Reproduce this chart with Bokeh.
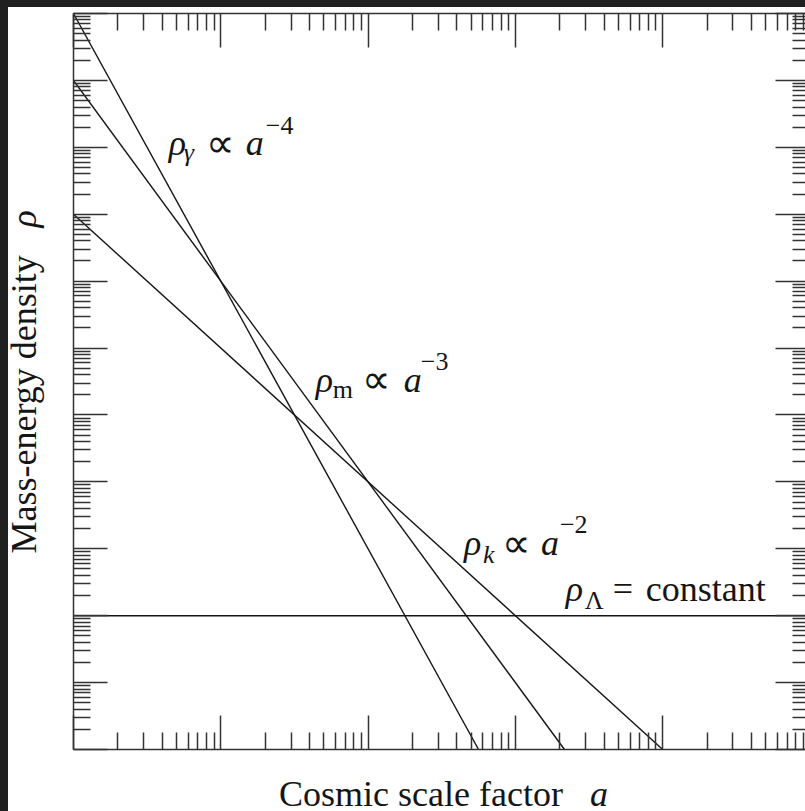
import math

from bokeh.core.properties import value
from bokeh.embed import file_html
from bokeh.layouts import column, row
from bokeh.models import CustomJSTickFormatter, FixedTicker, Label, LogAxis, Range1d
from bokeh.plotting import figure
from bokeh.resources import INLINE

# Density components: end points (scale factor a, density rho) on the log-log plane
a_radiation = [1e-3, 0.562]
rho_radiation = [1e9, 1e-2]

a_matter = [1e-3, 2.154]
rho_matter = [1e8, 1e-2]

a_curvature = [1e-3, 10.0]
rho_curvature = [1e6, 1e-2]

a_lambda = [1e-3, 100.0]
rho_lambda = [1.0, 1.0]

# Decades carrying major ticks (no tick labels are shown)
x_decades = [-3, -2, -1, 0, 1, 2]
y_decades = [-2, -1, 0, 1, 2, 3, 4, 5, 6, 7, 8, 9]
minor_steps = [2, 3, 4, 5, 6, 7, 8, 9]

x_title = "Cosmic scale factor"
y_title = "Mass-energy density"

SERIF = "Liberation Serif"
INK = "#151515"
AXIS = "#333333"
BIG, SMALL = 36, 26

# ---- main log-log panel -------------------------------------------------
FRAME_W, FRAME_H = 732, 736
PAD_L, PAD_T, PAD_B = 5, 6, 5
decade_px = 147.3
x_end = 10 ** (x_decades[0] + FRAME_W / decade_px)

p = figure(
    width=FRAME_W + PAD_L, height=FRAME_H + PAD_T + PAD_B,
    x_axis_type="log", y_axis_type="log",
    x_range=Range1d(10.0 ** x_decades[0], x_end),
    y_range=Range1d(10.0 ** y_decades[0], 10.0 ** y_decades[-1]),
    output_backend="svg", toolbar_location=None,
    min_border_left=PAD_L, min_border_top=PAD_T,
    min_border_bottom=PAD_B, min_border_right=0,
    background_fill_color="white", border_fill_color="white",
    outline_line_color=None,
)
p.grid.visible = False


def log_ticker(decades):
    return FixedTicker(
        ticks=[10.0 ** k for k in decades],
        minor_ticks=[m * 10.0 ** k for k in decades for m in minor_steps],
    )


def style_axis(ax, decades, major_in, minor_in, show_line=True):
    ax.ticker = log_ticker(decades)
    ax.formatter = CustomJSTickFormatter(code="return ''")
    ax.major_label_text_font_size = "0px"
    ax.major_label_standoff = 0
    ax.axis_label = None
    ax.major_tick_in = major_in
    ax.major_tick_out = 0
    ax.minor_tick_in = minor_in
    ax.minor_tick_out = 0
    ax.major_tick_line_color = AXIS
    ax.minor_tick_line_color = AXIS
    ax.major_tick_line_width = 1.5
    ax.minor_tick_line_width = 1.5
    ax.axis_line_color = AXIS if show_line else None
    ax.axis_line_width = 1.5


style_axis(p.xaxis[0], x_decades, 34, 17)
style_axis(p.yaxis[0], y_decades, 34, 17)

top_axis = LogAxis()
style_axis(top_axis, x_decades, 34, 17)
p.add_layout(top_axis, "above")

right_axis = LogAxis()
style_axis(right_axis, y_decades, 30, 13, show_line=False)
p.add_layout(right_axis, "right")

# The four density laws
for xs, ys in [
    (a_radiation, rho_radiation),
    (a_matter, rho_matter),
    (a_curvature, rho_curvature),
    (a_lambda, rho_lambda),
]:
    p.line(xs, ys, line_color=INK, line_width=1.4)


def label_group(x, y, parts, lift=0):
    """Compose a formula from pieces placed at pixel offsets from a data anchor."""
    for dx, dy, txt, size, style in parts:
        p.add_layout(Label(
            x=x, y=y, x_offset=dx, y_offset=dy + lift, text=txt,
            text_font=SERIF, text_font_size=f"{size}px", text_font_style=style,
            text_color=INK, text_baseline="alphabetic", text_align="left",
        ))


label_group(0.00444, 1.0e7, [
    (0, 0, "ρ", BIG, "italic"),
    (15, -9, "γ", SMALL, "italic"),
    (37, 0, "∝", 40, "normal"),
    (77, 0, "a", BIG, "italic"),
    (97, 18, "−4", SMALL, "normal"),
], lift=4)

label_group(0.0442, 3.04e3, [
    (0, 0, "ρ", BIG, "italic"),
    (17, -10, "m", SMALL, "normal"),
    (46, 0, "∝", 40, "normal"),
    (88, 0, "a", BIG, "italic"),
    (105, 18, "−3", SMALL, "normal"),
], lift=3)

label_group(0.447, 11.3, [
    (0, 0, "ρ", BIG, "italic"),
    (19, -11, "k", SMALL, "italic"),
    (38, 0, "∝", 40, "normal"),
    (77, 0, "a", BIG, "italic"),
    (96, 19, "−2", SMALL, "normal"),
], lift=2)

label_group(2.2, 2.4, [
    (0, 0, "ρ", BIG, "italic"),
    (19, -11, "Λ", SMALL, "normal"),
    (47, 0, "=", BIG, "normal"),
    (80, 0, "constant", BIG, "normal"),
], lift=1)


# ---- title strips (pixel coordinate panels) -----------------------------
def strip(width, height):
    s = figure(
        width=width, height=height, title=None,
        x_range=Range1d(0, width), y_range=Range1d(0, height),
        x_axis_location=None, y_axis_location=None,
        output_backend="svg", toolbar_location=None,
        min_border=0, outline_line_color=None,
        background_fill_color="white", border_fill_color="white",
    )
    s.grid.visible = False
    return s


def title_text(fig, x, y, txt, style, angle=0.0):
    fig.text(
        x=[x], y=[y], text=[txt], angle=angle,
        text_font=value(SERIF), text_font_size=value(f"{BIG}px"),
        text_font_style=value(style), text_color=INK,
        text_baseline=value("alphabetic"), text_align=value("left"),
    )


bottom = strip(FRAME_W + PAD_L, 57)
title_text(bottom, 207, 18, x_title, "normal")
title_text(bottom, 520, 18, "a", "italic")

left = strip(60, 804)
title_text(left, 15, 258, y_title, "normal", angle=math.pi / 2)
title_text(left, 15, 584, "ρ", "italic", angle=math.pi / 2)

page = row(left, column(p, bottom, spacing=0), spacing=0,
           styles={"background-color": "white"})
page.margin = (7, 0, 0, 8)
root = column(page, styles={"background-color": "#202020"})
open("out.html", "w").write(file_html(root, INLINE))
